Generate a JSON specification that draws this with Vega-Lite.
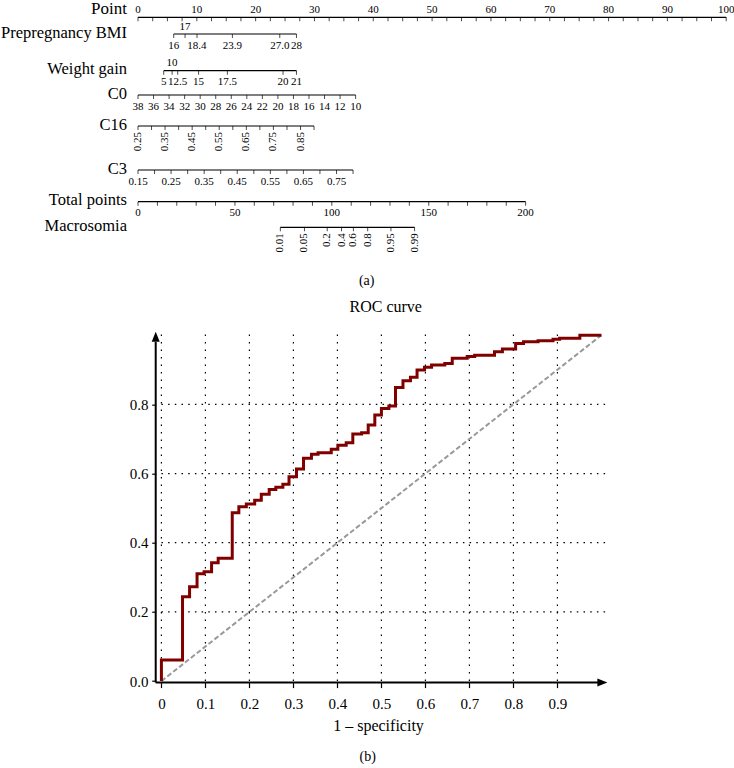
{
  "$schema": "https://vega.github.io/schema/vega-lite/v6.json",
  "padding": 0,
  "background": "white",
  "bounds": "flush",
  "spacing": 69.7,
  "title": {"text": "(b)", "orient": "bottom", "anchor": "middle", "offset": 28, "baseline": "alphabetic", "fontSize": 14, "fontWeight": "normal", "font": "Liberation Serif", "color": "black"},
  "config": {
    "view": {"stroke": null},
    "text": {"font": "Liberation Serif", "color": "black"},
    "axis": {"labelFont": "Liberation Serif", "titleFont": "Liberation Serif", "labelColor": "black", "titleColor": "black"},
    "title": {"font": "Liberation Serif", "color": "black"}
  },
  "datasets": {
    "rows": [
      {"row": "Point", "y": 1.73},
      {"row": "Prepregnancy BMI", "y": 3.4},
      {"row": "Weight gain", "y": 7.07},
      {"row": "C0", "y": 9.5},
      {"row": "C16", "y": 12.6},
      {"row": "C3", "y": 17.0},
      {"row": "Total points", "y": 20.17},
      {"row": "Macrosomia", "y": 22.73}
    ],
    "ticks": [
      {"row": "Point", "pos": 0, "label": "0", "side": "above"},
      {"row": "Point", "pos": 2.5, "label": "", "side": "none"},
      {"row": "Point", "pos": 5, "label": "", "side": "none"},
      {"row": "Point", "pos": 7.5, "label": "", "side": "none"},
      {"row": "Point", "pos": 10, "label": "10", "side": "above"},
      {"row": "Point", "pos": 12.5, "label": "", "side": "none"},
      {"row": "Point", "pos": 15, "label": "", "side": "none"},
      {"row": "Point", "pos": 17.5, "label": "", "side": "none"},
      {"row": "Point", "pos": 20, "label": "20", "side": "above"},
      {"row": "Point", "pos": 22.5, "label": "", "side": "none"},
      {"row": "Point", "pos": 25, "label": "", "side": "none"},
      {"row": "Point", "pos": 27.5, "label": "", "side": "none"},
      {"row": "Point", "pos": 30, "label": "30", "side": "above"},
      {"row": "Point", "pos": 32.5, "label": "", "side": "none"},
      {"row": "Point", "pos": 35, "label": "", "side": "none"},
      {"row": "Point", "pos": 37.5, "label": "", "side": "none"},
      {"row": "Point", "pos": 40, "label": "40", "side": "above"},
      {"row": "Point", "pos": 42.5, "label": "", "side": "none"},
      {"row": "Point", "pos": 45, "label": "", "side": "none"},
      {"row": "Point", "pos": 47.5, "label": "", "side": "none"},
      {"row": "Point", "pos": 50, "label": "50", "side": "above"},
      {"row": "Point", "pos": 52.5, "label": "", "side": "none"},
      {"row": "Point", "pos": 55, "label": "", "side": "none"},
      {"row": "Point", "pos": 57.5, "label": "", "side": "none"},
      {"row": "Point", "pos": 60, "label": "60", "side": "above"},
      {"row": "Point", "pos": 62.5, "label": "", "side": "none"},
      {"row": "Point", "pos": 65, "label": "", "side": "none"},
      {"row": "Point", "pos": 67.5, "label": "", "side": "none"},
      {"row": "Point", "pos": 70, "label": "70", "side": "above"},
      {"row": "Point", "pos": 72.5, "label": "", "side": "none"},
      {"row": "Point", "pos": 75, "label": "", "side": "none"},
      {"row": "Point", "pos": 77.5, "label": "", "side": "none"},
      {"row": "Point", "pos": 80, "label": "80", "side": "above"},
      {"row": "Point", "pos": 82.5, "label": "", "side": "none"},
      {"row": "Point", "pos": 85, "label": "", "side": "none"},
      {"row": "Point", "pos": 87.5, "label": "", "side": "none"},
      {"row": "Point", "pos": 90, "label": "90", "side": "above"},
      {"row": "Point", "pos": 92.5, "label": "", "side": "none"},
      {"row": "Point", "pos": 95, "label": "", "side": "none"},
      {"row": "Point", "pos": 97.5, "label": "", "side": "none"},
      {"row": "Point", "pos": 100, "label": "100", "side": "above"},
      {"row": "Prepregnancy BMI", "pos": 6.07, "label": "16", "side": "below"},
      {"row": "Prepregnancy BMI", "pos": 8.0, "label": "17", "side": "above"},
      {"row": "Prepregnancy BMI", "pos": 10.03, "label": "18.4", "side": "below"},
      {"row": "Prepregnancy BMI", "pos": 16.05, "label": "23.9", "side": "below"},
      {"row": "Prepregnancy BMI", "pos": 24.1, "label": "27.0", "side": "below"},
      {"row": "Prepregnancy BMI", "pos": 26.94, "label": "28", "side": "below"},
      {"row": "Weight gain", "pos": 4.37, "label": "5", "side": "below"},
      {"row": "Weight gain", "pos": 5.8, "label": "10", "side": "above"},
      {"row": "Weight gain", "pos": 6.75, "label": "12.5", "side": "below"},
      {"row": "Weight gain", "pos": 10.3, "label": "15", "side": "below"},
      {"row": "Weight gain", "pos": 15.2, "label": "17.5", "side": "below"},
      {"row": "Weight gain", "pos": 24.66, "label": "20", "side": "below"},
      {"row": "Weight gain", "pos": 26.94, "label": "21", "side": "below"},
      {"row": "C0", "pos": 0, "label": "38", "side": "below"},
      {"row": "C0", "pos": 2.643, "label": "36", "side": "below"},
      {"row": "C0", "pos": 5.286, "label": "34", "side": "below"},
      {"row": "C0", "pos": 7.929, "label": "32", "side": "below"},
      {"row": "C0", "pos": 10.571, "label": "30", "side": "below"},
      {"row": "C0", "pos": 13.214, "label": "28", "side": "below"},
      {"row": "C0", "pos": 15.857, "label": "26", "side": "below"},
      {"row": "C0", "pos": 18.5, "label": "24", "side": "below"},
      {"row": "C0", "pos": 21.143, "label": "22", "side": "below"},
      {"row": "C0", "pos": 23.786, "label": "20", "side": "below"},
      {"row": "C0", "pos": 26.429, "label": "18", "side": "below"},
      {"row": "C0", "pos": 29.071, "label": "16", "side": "below"},
      {"row": "C0", "pos": 31.714, "label": "14", "side": "below"},
      {"row": "C0", "pos": 34.357, "label": "12", "side": "below"},
      {"row": "C0", "pos": 37.0, "label": "10", "side": "below"},
      {"row": "C16", "pos": 0, "label": "0.25", "side": "vertical"},
      {"row": "C16", "pos": 2.30, "label": "", "side": "none"},
      {"row": "C16", "pos": 4.60, "label": "0.35", "side": "vertical"},
      {"row": "C16", "pos": 6.91, "label": "", "side": "none"},
      {"row": "C16", "pos": 9.21, "label": "0.45", "side": "vertical"},
      {"row": "C16", "pos": 11.51, "label": "", "side": "none"},
      {"row": "C16", "pos": 13.81, "label": "0.55", "side": "vertical"},
      {"row": "C16", "pos": 16.12, "label": "", "side": "none"},
      {"row": "C16", "pos": 18.42, "label": "0.65", "side": "vertical"},
      {"row": "C16", "pos": 20.72, "label": "", "side": "none"},
      {"row": "C16", "pos": 23.02, "label": "0.75", "side": "vertical"},
      {"row": "C16", "pos": 25.33, "label": "", "side": "none"},
      {"row": "C16", "pos": 27.63, "label": "0.85", "side": "vertical"},
      {"row": "C16", "pos": 29.93, "label": "", "side": "none"},
      {"row": "C3", "pos": 0, "label": "0.15", "side": "below"},
      {"row": "C3", "pos": 2.81, "label": "", "side": "none"},
      {"row": "C3", "pos": 5.62, "label": "0.25", "side": "below"},
      {"row": "C3", "pos": 8.44, "label": "", "side": "none"},
      {"row": "C3", "pos": 11.25, "label": "0.35", "side": "below"},
      {"row": "C3", "pos": 14.06, "label": "", "side": "none"},
      {"row": "C3", "pos": 16.87, "label": "0.45", "side": "below"},
      {"row": "C3", "pos": 19.69, "label": "", "side": "none"},
      {"row": "C3", "pos": 22.5, "label": "0.55", "side": "below"},
      {"row": "C3", "pos": 25.31, "label": "", "side": "none"},
      {"row": "C3", "pos": 28.12, "label": "0.65", "side": "below"},
      {"row": "C3", "pos": 30.93, "label": "", "side": "none"},
      {"row": "C3", "pos": 33.75, "label": "0.75", "side": "below"},
      {"row": "C3", "pos": 36.56, "label": "", "side": "none"},
      {"row": "Total points", "pos": 0, "label": "0", "side": "below"},
      {"row": "Total points", "pos": 3.3, "label": "", "side": "none"},
      {"row": "Total points", "pos": 6.59, "label": "", "side": "none"},
      {"row": "Total points", "pos": 9.89, "label": "", "side": "none"},
      {"row": "Total points", "pos": 13.18, "label": "", "side": "none"},
      {"row": "Total points", "pos": 16.48, "label": "50", "side": "below"},
      {"row": "Total points", "pos": 19.77, "label": "", "side": "none"},
      {"row": "Total points", "pos": 23.07, "label": "", "side": "none"},
      {"row": "Total points", "pos": 26.36, "label": "", "side": "none"},
      {"row": "Total points", "pos": 29.66, "label": "", "side": "none"},
      {"row": "Total points", "pos": 32.95, "label": "100", "side": "below"},
      {"row": "Total points", "pos": 36.25, "label": "", "side": "none"},
      {"row": "Total points", "pos": 39.54, "label": "", "side": "none"},
      {"row": "Total points", "pos": 42.84, "label": "", "side": "none"},
      {"row": "Total points", "pos": 46.13, "label": "", "side": "none"},
      {"row": "Total points", "pos": 49.43, "label": "150", "side": "below"},
      {"row": "Total points", "pos": 52.72, "label": "", "side": "none"},
      {"row": "Total points", "pos": 56.02, "label": "", "side": "none"},
      {"row": "Total points", "pos": 59.31, "label": "", "side": "none"},
      {"row": "Total points", "pos": 62.61, "label": "", "side": "none"},
      {"row": "Total points", "pos": 65.9, "label": "200", "side": "below"},
      {"row": "Macrosomia", "pos": 24.2, "label": "0.01", "side": "vertical"},
      {"row": "Macrosomia", "pos": 28.3, "label": "0.05", "side": "vertical"},
      {"row": "Macrosomia", "pos": 32.17, "label": "0.2", "side": "vertical"},
      {"row": "Macrosomia", "pos": 34.6, "label": "0.4", "side": "vertical"},
      {"row": "Macrosomia", "pos": 36.62, "label": "0.6", "side": "vertical"},
      {"row": "Macrosomia", "pos": 39.05, "label": "0.8", "side": "vertical"},
      {"row": "Macrosomia", "pos": 43.0, "label": "0.95", "side": "vertical"},
      {"row": "Macrosomia", "pos": 47.02, "label": "0.99", "side": "vertical"}
    ],
    "roc": [
      {"fpr": 0, "tpr": 0}, {"fpr": 0, "tpr": 0.061}, {"fpr": 0.048, "tpr": 0.244}, {"fpr": 0.064, "tpr": 0.273},
      {"fpr": 0.081, "tpr": 0.31}, {"fpr": 0.097, "tpr": 0.316}, {"fpr": 0.114, "tpr": 0.342}, {"fpr": 0.129, "tpr": 0.355},
      {"fpr": 0.161, "tpr": 0.487}, {"fpr": 0.176, "tpr": 0.504}, {"fpr": 0.193, "tpr": 0.512}, {"fpr": 0.212, "tpr": 0.523},
      {"fpr": 0.227, "tpr": 0.54}, {"fpr": 0.245, "tpr": 0.554}, {"fpr": 0.26, "tpr": 0.56}, {"fpr": 0.276, "tpr": 0.569},
      {"fpr": 0.29, "tpr": 0.591}, {"fpr": 0.307, "tpr": 0.613}, {"fpr": 0.323, "tpr": 0.644}, {"fpr": 0.341, "tpr": 0.656},
      {"fpr": 0.356, "tpr": 0.66}, {"fpr": 0.386, "tpr": 0.67}, {"fpr": 0.401, "tpr": 0.682}, {"fpr": 0.42, "tpr": 0.689},
      {"fpr": 0.435, "tpr": 0.714}, {"fpr": 0.455, "tpr": 0.718}, {"fpr": 0.47, "tpr": 0.74}, {"fpr": 0.485, "tpr": 0.769},
      {"fpr": 0.5, "tpr": 0.788}, {"fpr": 0.517, "tpr": 0.795}, {"fpr": 0.532, "tpr": 0.849}, {"fpr": 0.549, "tpr": 0.868},
      {"fpr": 0.566, "tpr": 0.878}, {"fpr": 0.581, "tpr": 0.899}, {"fpr": 0.598, "tpr": 0.907}, {"fpr": 0.614, "tpr": 0.914},
      {"fpr": 0.644, "tpr": 0.918}, {"fpr": 0.661, "tpr": 0.933}, {"fpr": 0.695, "tpr": 0.938}, {"fpr": 0.712, "tpr": 0.942},
      {"fpr": 0.757, "tpr": 0.952}, {"fpr": 0.775, "tpr": 0.96}, {"fpr": 0.805, "tpr": 0.976}, {"fpr": 0.823, "tpr": 0.981},
      {"fpr": 0.856, "tpr": 0.984}, {"fpr": 0.89, "tpr": 0.988}, {"fpr": 0.905, "tpr": 0.991}, {"fpr": 0.951, "tpr": 1.0},
      {"fpr": 1.0, "tpr": 1.0}
    ],
    "diag": [{"fpr": 0, "tpr": 0}, {"fpr": 1, "tpr": 1}],
    "gridx": [{"v": 0}, {"v": 0.1}, {"v": 0.2}, {"v": 0.3}, {"v": 0.4}, {"v": 0.5}, {"v": 0.6}, {"v": 0.7}, {"v": 0.8}, {"v": 0.9}],
    "gridy": [{"v": 0.2}, {"v": 0.4}, {"v": 0.6}, {"v": 0.8}],
    "one": [{}]
  },
  "vconcat": [
    {
      "width": 588.2,
      "height": 262,
      "title": {"text": "(a)", "orient": "bottom", "frame": "group", "anchor": "middle", "dx": -65.4, "offset": 23, "baseline": "alphabetic", "fontSize": 14, "fontWeight": "normal", "font": "Liberation Serif", "color": "black"},
      "layer": [
        {
          "data": {"name": "ticks"},
          "transform": [
            {"lookup": "row", "from": {"data": {"name": "rows"}, "key": "row", "fields": ["y"]}},
            {"aggregate": [{"op": "min", "field": "pos", "as": "lo"}, {"op": "max", "field": "pos", "as": "hi"}], "groupby": ["row", "y"]}
          ],
          "mark": {"type": "rule", "color": "black", "strokeWidth": 1.2},
          "encoding": {
            "x": {"field": "lo", "type": "quantitative", "scale": {"domain": [0, 100], "nice": false, "zero": false}, "axis": null},
            "x2": {"field": "hi"},
            "y": {"field": "y", "type": "quantitative", "scale": {"domain": [0, 26.2], "reverse": true, "nice": false, "zero": false}, "axis": null}
          }
        },
        {
          "data": {"name": "ticks"},
          "transform": [{"lookup": "row", "from": {"data": {"name": "rows"}, "key": "row", "fields": ["y"]}}],
          "mark": {"type": "tick", "orient": "vertical", "size": 4, "thickness": 1, "color": "black", "yOffset": 2},
          "encoding": {
            "x": {"field": "pos", "type": "quantitative", "scale": {"domain": [0, 100], "nice": false, "zero": false}, "axis": null},
            "y": {"field": "y", "type": "quantitative", "scale": {"domain": [0, 26.2], "reverse": true, "nice": false, "zero": false}, "axis": null}
          }
        },
        {
          "data": {"name": "ticks"},
          "transform": [{"lookup": "row", "from": {"data": {"name": "rows"}, "key": "row", "fields": ["y"]}}, {"filter": "datum.side === 'above'"}],
          "mark": {"type": "text", "baseline": "alphabetic", "dy": -4.5, "fontSize": 11},
          "encoding": {
            "x": {"field": "pos", "type": "quantitative", "scale": {"domain": [0, 100], "nice": false, "zero": false}, "axis": null},
            "y": {"field": "y", "type": "quantitative", "scale": {"domain": [0, 26.2], "reverse": true, "nice": false, "zero": false}, "axis": null},
            "text": {"field": "label"}
          }
        },
        {
          "data": {"name": "ticks"},
          "transform": [{"lookup": "row", "from": {"data": {"name": "rows"}, "key": "row", "fields": ["y"]}}, {"filter": "datum.side === 'below'"}],
          "mark": {"type": "text", "baseline": "alphabetic", "dy": 14.5, "fontSize": 11},
          "encoding": {
            "x": {"field": "pos", "type": "quantitative", "scale": {"domain": [0, 100], "nice": false, "zero": false}, "axis": null},
            "y": {"field": "y", "type": "quantitative", "scale": {"domain": [0, 26.2], "reverse": true, "nice": false, "zero": false}, "axis": null},
            "text": {"field": "label"}
          }
        },
        {
          "data": {"name": "ticks"},
          "transform": [{"lookup": "row", "from": {"data": {"name": "rows"}, "key": "row", "fields": ["y"]}}, {"filter": "datum.side === 'vertical'"}],
          "mark": {"type": "text", "angle": 270, "align": "right", "baseline": "middle", "yOffset": 6, "fontSize": 11},
          "encoding": {
            "x": {"field": "pos", "type": "quantitative", "scale": {"domain": [0, 100], "nice": false, "zero": false}, "axis": null},
            "y": {"field": "y", "type": "quantitative", "scale": {"domain": [0, 26.2], "reverse": true, "nice": false, "zero": false}, "axis": null},
            "text": {"field": "label"}
          }
        },
        {
          "data": {"name": "rows"},
          "transform": [{"filter": "datum.row !== 'Point'"}],
          "mark": {"type": "text", "align": "right", "baseline": "alphabetic", "dx": -11, "dy": 3.5, "fontSize": 16.5},
          "encoding": {
            "x": {"datum": 0, "type": "quantitative", "scale": {"domain": [0, 100], "nice": false, "zero": false}, "axis": null},
            "y": {"field": "y", "type": "quantitative", "scale": {"domain": [0, 26.2], "reverse": true, "nice": false, "zero": false}, "axis": null},
            "text": {"field": "row"}
          }
        },
        {
          "data": {"name": "rows"},
          "transform": [{"filter": "datum.row === 'Point'"}],
          "mark": {"type": "text", "align": "right", "baseline": "alphabetic", "dx": -11, "dy": -3, "fontSize": 17},
          "encoding": {
            "x": {"datum": 0, "type": "quantitative", "scale": {"domain": [0, 100], "nice": false, "zero": false}, "axis": null},
            "y": {"field": "y", "type": "quantitative", "scale": {"domain": [0, 26.2], "reverse": true, "nice": false, "zero": false}, "axis": null},
            "text": {"field": "row"}
          }
        }
      ]
    },
    {
      "width": 469.4,
      "height": 349.4,
      "title": {"text": "ROC curve", "frame": "group", "anchor": "middle", "dx": 13, "offset": 1, "baseline": "alphabetic", "fontSize": 16, "fontWeight": "normal", "font": "Liberation Serif", "color": "black"},
      "layer": [
        {
          "data": {"name": "gridx"},
          "mark": {"type": "rule", "color": "black", "strokeWidth": 1.2, "strokeDash": [1.5, 6]},
          "encoding": {
            "x": {"field": "v", "type": "quantitative", "scale": {"domain": [-0.0532, 1.0136], "nice": false, "zero": false}},
            "y": {"datum": 0, "type": "quantitative", "scale": {"domain": [0, 1.01], "nice": false, "zero": false}},
            "y2": {"datum": 1.01}
          }
        },
        {
          "data": {"name": "gridy"},
          "mark": {"type": "rule", "color": "black", "strokeWidth": 1.2, "strokeDash": [1.5, 5.2]},
          "encoding": {
            "y": {"field": "v", "type": "quantitative", "scale": {"domain": [0, 1.01], "nice": false, "zero": false}},
            "x": {"datum": 0, "type": "quantitative", "scale": {"domain": [-0.0532, 1.0136], "nice": false, "zero": false}},
            "x2": {"datum": 1.0136}
          }
        },
        {
          "data": {"name": "diag"},
          "mark": {"type": "line", "color": "#999999", "strokeWidth": 2, "strokeDash": [5, 2.5]},
          "encoding": {
            "x": {"field": "fpr", "type": "quantitative", "scale": {"domain": [-0.0532, 1.0136], "nice": false, "zero": false}},
            "y": {"field": "tpr", "type": "quantitative", "scale": {"domain": [0, 1.01], "nice": false, "zero": false}}
          }
        },
        {
          "data": {"name": "roc"},
          "mark": {"type": "line", "color": "#800000", "strokeWidth": 3, "interpolate": "step-after"},
          "encoding": {
            "order": {"value": null},
            "x": {
              "field": "fpr", "type": "quantitative",
              "scale": {"domain": [-0.0532, 1.0136], "nice": false, "zero": false},
              "axis": {
                "values": [0, 0.05, 0.1, 0.15, 0.2, 0.25, 0.3, 0.35, 0.4, 0.45, 0.5, 0.55, 0.6, 0.65, 0.7, 0.75, 0.8, 0.85, 0.9, 0.95],
                "labelExpr": "datum.value === 0 ? '0' : (round(datum.value * 20) % 2 === 0 ? format(datum.value, '.1f') : '')",
                "domain": false, "grid": false, "offset": 1.5,
                "tickSize": 5, "tickColor": "black", "tickWidth": 1.2,
                "labelFontSize": 15, "labelBaseline": "alphabetic", "labelPadding": 20.7,
                "labelOverlap": false, "labelFlush": false, "labelBound": false,
                "title": "1 – specificity", "titleFontSize": 16, "titleFontWeight": "normal",
                "titleX": 240, "titleY": 47.4, "titleBaseline": "alphabetic", "titleAlign": "center"
              }
            },
            "y": {
              "field": "tpr", "type": "quantitative",
              "scale": {"domain": [0, 1.01], "nice": false, "zero": false},
              "axis": {
                "values": [0, 0.1, 0.2, 0.3, 0.4, 0.5, 0.6, 0.7, 0.8, 0.9],
                "labelExpr": "round(datum.value * 10) % 2 === 0 ? format(datum.value, '.1f') : ''",
                "domain": false, "grid": false, "offset": -17.7,
                "tickSize": 4, "tickColor": "black", "tickWidth": 1.2,
                "labelFontSize": 15, "labelBaseline": "middle", "labelPadding": 3.7,
                "labelOverlap": false, "labelFlush": false, "labelBound": false,
                "title": null
              }
            }
          }
        },
        {
          "data": {"name": "one"},
          "mark": {"type": "rule", "color": "black", "strokeWidth": 2, "xOffset": -5.7, "yOffset": 1.5},
          "encoding": {
            "x": {"datum": 0, "type": "quantitative", "scale": {"domain": [-0.0532, 1.0136], "nice": false, "zero": false}},
            "x2": {"datum": 1.0},
            "y": {"datum": 0, "type": "quantitative", "scale": {"domain": [0, 1.01], "nice": false, "zero": false}}
          }
        },
        {
          "data": {"name": "one"},
          "mark": {"type": "rule", "color": "black", "strokeWidth": 2, "xOffset": -5.7, "yOffset": 1.5},
          "encoding": {
            "x": {"datum": 0, "type": "quantitative", "scale": {"domain": [-0.0532, 1.0136], "nice": false, "zero": false}},
            "y": {"datum": 0, "type": "quantitative", "scale": {"domain": [0, 1.01], "nice": false, "zero": false}},
            "y2": {"datum": 0.98}
          }
        },
        {
          "data": {"name": "one"},
          "mark": {"type": "point", "shape": "M-2.5,-1L0,0L-2.5,1Z", "filled": true, "color": "black", "opacity": 1, "size": 64, "strokeWidth": 0, "yOffset": 1.5},
          "encoding": {
            "x": {"datum": 1.0136, "type": "quantitative", "scale": {"domain": [-0.0532, 1.0136], "nice": false, "zero": false}},
            "y": {"datum": 0, "type": "quantitative", "scale": {"domain": [0, 1.01], "nice": false, "zero": false}}
          }
        },
        {
          "data": {"name": "one"},
          "mark": {"type": "point", "shape": "M-1,2.5L0,0L1,2.5Z", "filled": true, "color": "black", "opacity": 1, "size": 64, "strokeWidth": 0, "xOffset": -5.7},
          "encoding": {
            "x": {"datum": 0, "type": "quantitative", "scale": {"domain": [-0.0532, 1.0136], "nice": false, "zero": false}},
            "y": {"datum": 1.01, "type": "quantitative", "scale": {"domain": [0, 1.01], "nice": false, "zero": false}}
          }
        }
      ]
    }
  ]
}
